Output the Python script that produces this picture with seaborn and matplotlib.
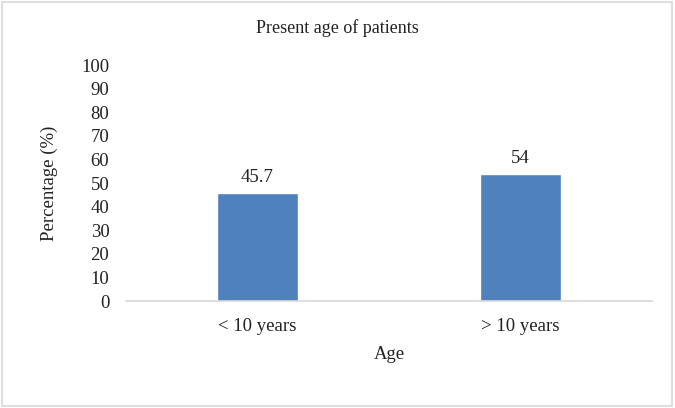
import matplotlib
matplotlib.use("Agg")
import matplotlib.pyplot as plt
import seaborn as sns
import pandas as pd
from matplotlib.patches import Rectangle

categories = ["< 10 years", "> 10 years"]
values = [45.7, 54]
labels = ["45.7", "54"]

df = pd.DataFrame({"Age": categories, "Percentage": values})

sns.set_theme(style="white")
plt.rcParams["font.family"] = ["Liberation Serif", "DejaVu Serif"]

fig = plt.figure(figsize=(6.75, 4.08), dpi=100)
ax = fig.add_axes([0.1867, 0.262, 0.7793, 0.5784])

sns.barplot(x="Age", y="Percentage", data=df, color="#4F81BD", width=0.31,
            saturation=1, ax=ax)

for i, (v, t) in enumerate(zip(values, labels)):
    ax.text(i, v + 3, t, ha="center", va="bottom", fontsize=13.5, color="#222222")

ax.set_xlim(-0.5, 1.5)
ax.set_ylim(0, 100)
ax.set_yticks(range(0, 101, 10))
ax.tick_params(axis="both", labelsize=13.5, colors="#222222", length=0)
ax.tick_params(axis="y", pad=12)
ax.tick_params(axis="x", pad=12)
for s in ["top", "right", "left"]:
    ax.spines[s].set_visible(False)
ax.spines["bottom"].set_color("#d9d9d9")
ax.spines["bottom"].set_linewidth(1.2)

ax.set_xlabel("Age", fontsize=13.5, color="#222222", labelpad=8)
ax.set_ylabel("Percentage (%)", fontsize=13.5, color="#222222", labelpad=17)
fig.text(0.5, 0.93, "Present age of patients", ha="center", va="center",
         fontsize=13, color="#222222")

fig.patches.append(Rectangle((0.003, 0.005), 0.993, 0.99, transform=fig.transFigure,
                             fill=False, edgecolor="#d9d9d9", linewidth=1.2))

fig.savefig("out.png", dpi=100)
